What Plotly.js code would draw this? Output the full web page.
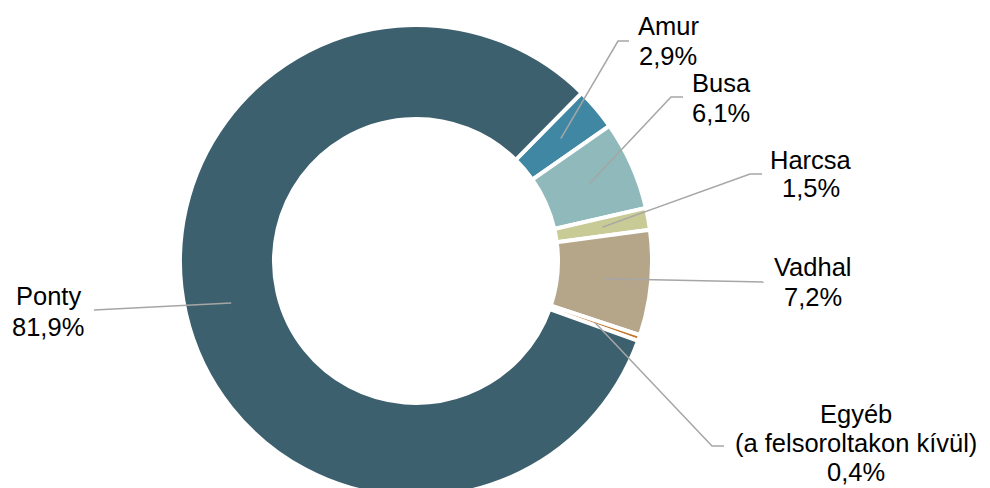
<!DOCTYPE html>
<html>
<head>
<meta charset="utf-8">
<script src="https://cdn.plot.ly/plotly-3.0.1.min.js"></script>
<style>
html,body{margin:0;padding:0;overflow:hidden;background:#fff;}
#chart{width:990px;height:500px;}
</style>
</head>
<body>
<div id="chart"></div>
<script>
// ---- data ----
const labels = ['Amur', 'Busa', 'Harcsa', 'Vadhal', 'Egyéb', 'Ponty'];
const labelExtra = ['', '', '', '', '(a felsoroltakon kívül)', ''];
const values = [2.9, 6.1, 1.5, 7.2, 0.4, 81.9];
const colors = ['#4087a3', '#8fb9ba', '#c8cb96', '#b5a68a', '#c47a2f', '#3d606e'];

// ---- layout constants (pixels) ----
const W = 990, H = 500;
const CX = 416, CY = 261, R = 236;
const BORDER = 4;
const HOLE = (144 - BORDER / 2) / R;
const ROT = 44.6;
const FONT = 25.5;

// label text centre x and line y's, leader elbow and end
const labelPos = [
  {x: 668, ys: [26, 56],        elbow: [618, 41],  end: [629, 41]},
  {x: 721, ys: [83, 113],       elbow: [671, 97],  end: [683, 97]},
  {x: 811, ys: [160, 188],      elbow: [750, 174], end: [762, 174]},
  {x: 813, ys: [267, 297],      elbow: [764, 282], end: [764, 282]},
  {x: 856, ys: [414, 443, 472], elbow: [712, 446], end: [724, 446]},
  {x: 48,  ys: [296, 327],      elbow: [94, 310],  end: [94, 310]}
];

const px = x => x / W;
const py = y => 1 - y / H;
const fmt = v => v.toFixed(1).replace('.', ',') + '%';

const total = values.reduce((a, b) => a + b, 0);
const annotations = [];
const shapes = [];
let cum = 0;
const midR = (R * HOLE + R) / 2 + 0.5;
values.forEach((v, i) => {
  const midAng = (ROT + (cum + v / 2) / total * 360) * Math.PI / 180;
  cum += v;
  const sx = CX + midR * Math.sin(midAng);
  const sy = CY - midR * Math.cos(midAng);
  const p = labelPos[i];
  const lines = [labels[i]];
  if (labelExtra[i]) lines.push(labelExtra[i]);
  lines.push(fmt(v));
  lines.forEach((t, k) => {
    annotations.push({
      xref: 'paper', yref: 'paper', x: px(p.x), y: py(p.ys[k]),
      xanchor: 'center', yanchor: 'middle', text: t, showarrow: false,
      font: {family: 'Liberation Sans, Arial, sans-serif', size: FONT, color: '#000'}
    });
  });
  shapes.push({
    type: 'path', xref: 'paper', yref: 'paper',
    path: `M ${px(sx)} ${py(sy)} L ${px(p.elbow[0])} ${py(p.elbow[1])} L ${px(p.end[0])} ${py(p.end[1])}`,
    line: {color: '#a6a6a6', width: 1.5}, layer: 'above'
  });
});

const data = [{
  type: 'pie',
  labels: labels,
  values: values,
  sort: false,
  direction: 'clockwise',
  rotation: ROT,
  hole: HOLE,
  textinfo: 'none',
  hoverinfo: 'none',
  marker: {colors: colors, line: {color: '#ffffff', width: BORDER}},
  domain: {x: [px(CX - R), px(CX + R)], y: [py(CY + R), py(CY - R)]},
  showlegend: false
}];

const layout = {
  width: W, height: H,
  margin: {l: 0, r: 0, t: 0, b: 0},
  paper_bgcolor: '#fff',
  showlegend: false,
  annotations: annotations,
  shapes: shapes
};

Plotly.newPlot('chart', data, layout, {displayModeBar: false, staticPlot: true});
</script>
</body>
</html>
